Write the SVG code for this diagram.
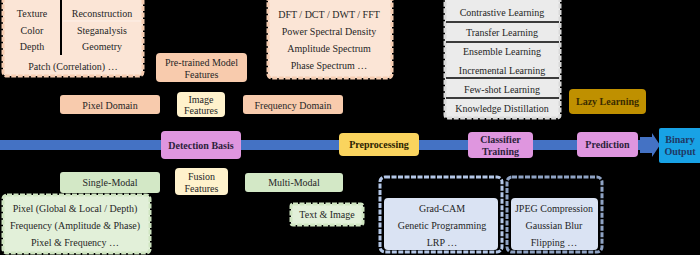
<svg xmlns="http://www.w3.org/2000/svg" width="700" height="255" viewBox="0 0 700 255">
<defs>
<style>
text{font-family:Liberation Serif,Tinos,Times New Roman,serif;font-size:10px;fill:#262626;text-anchor:middle}
.b{font-weight:bold;fill:#2b1f3a}
.pink{fill:#DF96DF}
.peach{fill:#F8CBAD}
.lpeach{fill:#FBE5D6;stroke:#F6CDB2;stroke-width:3;stroke-dasharray:5 1.5}
.yel{fill:#FFF2CC}
.grn{fill:#D3E8C6}
.lgrn{fill:#E2F0D9;stroke:#CFE5C1;stroke-width:3;stroke-dasharray:5 1.5}
.gray{fill:#EBEBEB;stroke:#D9D9D9;stroke-width:3;stroke-dasharray:5 1.5}
.lblue{fill:#DAE3F3}
.con{stroke:#000;stroke-width:1.2;fill:none;marker-end:url(#ah)}
</style>
<marker id="ah" viewBox="0 0 10 10" refX="9" refY="5" markerWidth="6" markerHeight="6" orient="auto"><path d="M0,1 L10,5 L0,9 z" fill="#000"/></marker>
</defs>
<rect width="700" height="255" fill="#000"/>

<g id="flow">
<rect x="0" y="140" width="646" height="10" fill="#4472C4"/>
<path d="M640,137 L652,137 L652,133 L660,145 L652,157 L652,153 L640,153 z" fill="#4472C4"/>
</g>

<g id="connectors">
<line class="con" x1="108" y1="76" x2="108" y2="95"/>
<line class="con" x1="293" y1="78" x2="293" y2="95"/>
<line class="con" x1="201" y1="82" x2="201" y2="92"/>
<line class="con" x1="160" y1="105" x2="177" y2="105"/>
<line class="con" x1="243" y1="105" x2="225" y2="105"/>
<line class="con" x1="201" y1="117" x2="201" y2="131"/>
<line class="con" x1="201" y1="168" x2="201" y2="158"/>
<line class="con" x1="160" y1="182" x2="175" y2="182"/>
<line class="con" x1="245" y1="182" x2="228" y2="182"/>
<line class="con" x1="105" y1="195" x2="105" y2="193"/>
<line class="con" x1="297" y1="204" x2="297" y2="192"/>
<line class="con" x1="503" y1="118" x2="503" y2="132"/>
<line class="con" x1="608" y1="114" x2="608" y2="132"/>
<line class="con" x1="452" y1="177" x2="452" y2="160"/>
<line class="con" x1="555" y1="177" x2="555" y2="160"/>
</g>

<g id="pixel-features">
<rect x="3" y="-3" width="140" height="79" rx="4" class="lpeach"/>
<line x1="61" y1="0" x2="61" y2="55" stroke="#000" stroke-width="2"/>
<line x1="63" y1="21" x2="141" y2="21" stroke="#FDF0E8" stroke-width="1"/>
<text x="32" y="16.5">Texture</text>
<text x="32" y="33.5">Color</text>
<text x="32" y="49.5">Depth</text>
<text x="102" y="16.5">Reconstruction</text>
<text x="102" y="33.5">Steganalysis</text>
<text x="102" y="49.5">Geometry</text>
<text x="73" y="69.5">Patch (Correlation) …</text>
</g>

<g id="freq-features">
<rect x="268" y="-3" width="124" height="81" rx="4" class="lpeach"/>
<text x="329" y="17.5">DFT / DCT / DWT / FFT</text>
<text x="329" y="34.5">Power Spectral Density</text>
<text x="329" y="51.5">Amplitude Spectrum</text>
<text x="329" y="68.5">Phase Spectrum …</text>
</g>

<g id="pretrained">
<rect x="156" y="53" width="91" height="29" rx="4" class="peach"/>
<text x="201.5" y="66">Pre-trained Model</text>
<text x="201.5" y="77.5">Features</text>
</g>

<g id="image-features">
<rect x="177" y="92" width="48" height="25" rx="4" class="yel"/>
<text x="201" y="103">Image</text>
<text x="201" y="114">Features</text>
</g>

<g id="pixel-domain">
<rect x="60" y="95" width="100" height="19" rx="3" class="peach"/>
<text x="110" y="108.5">Pixel Domain</text>
</g>

<g id="frequency-domain">
<rect x="243" y="95" width="100" height="19" rx="3" class="peach"/>
<text x="293" y="108.5">Frequency Domain</text>
</g>

<g id="detection-basis">
<rect x="161" y="131" width="80" height="28" rx="4" class="pink"/>
<text x="201" y="148.5" class="b">Detection Basis</text>
</g>

<g id="preprocessing">
<rect x="339" y="133" width="80" height="23" rx="4" fill="#FAD45E"/>
<text x="379" y="148" class="b" style="fill:#2b2200">Preprocessing</text>
</g>

<g id="classifier-training">
<rect x="468" y="132" width="65" height="26" rx="4" class="pink"/>
<text x="500.5" y="142.5" class="b">Classifier</text>
<text x="500.5" y="154.5" class="b">Training</text>
</g>

<g id="prediction">
<rect x="577" y="132" width="61" height="25" rx="4" class="pink"/>
<text x="607.5" y="148" class="b">Prediction</text>
</g>

<g id="binary-output">
<rect x="659" y="128" width="43" height="35" rx="2" fill="#18A2E5"/>
<text x="680" y="143" class="b" style="fill:#1F3864">Binary</text>
<text x="680" y="155" class="b" style="fill:#1F3864">Output</text>
</g>

<g id="learning-methods">
<rect x="445" y="-3" width="115" height="121" rx="3" class="gray"/>
<g stroke="#000" stroke-width="1.3">
<line x1="446" y1="22" x2="559" y2="22"/>
<line x1="446" y1="42" x2="559" y2="42"/>
<line x1="446" y1="78" x2="559" y2="78"/>
<line x1="446" y1="98" x2="559" y2="98"/>
</g>
<text x="502" y="16">Contrastive Learning</text>
<text x="502" y="35.8">Transfer Learning</text>
<text x="502" y="55.2">Ensemble Learning</text>
<text x="502" y="73.5">Incremental Learning</text>
<text x="502" y="92.8">Few-shot Learning</text>
<text x="502" y="111.8">Knowledge Distillation</text>
</g>

<g id="lazy-learning">
<rect x="569" y="89" width="77" height="25" rx="4" fill="#BF9000"/>
<text x="607.5" y="105" class="b" style="fill:#3a2c00">Lazy Learning</text>
</g>

<g id="single-modal">
<rect x="60" y="172" width="100" height="21" rx="3" class="grn"/>
<text x="110" y="186">Single-Modal</text>
</g>

<g id="fusion-features">
<rect x="175" y="168" width="53" height="27" rx="4" class="yel"/>
<text x="201.5" y="180">Fusion</text>
<text x="201.5" y="192">Features</text>
</g>

<g id="multi-modal">
<rect x="245" y="173" width="98" height="19" rx="3" class="grn"/>
<text x="294" y="186">Multi-Modal</text>
</g>

<g id="single-modal-list">
<rect x="3" y="195" width="147" height="58" rx="4" class="lgrn"/>
<text x="75" y="211.5">Pixel (Global &amp; Local / Depth)</text>
<text x="75" y="228.5">Frequency (Amplitude &amp; Phase)</text>
<text x="75" y="246">Pixel &amp; Frequency …</text>
</g>

<g id="text-image">
<rect x="291" y="204" width="72" height="21" rx="2" class="lgrn"/>
<text x="327" y="218">Text &amp; Image</text>
</g>

<g id="explainability">
<rect x="380" y="177" width="122" height="75" rx="5" fill="none" stroke="#B4C7E7" stroke-width="3" stroke-dasharray="5 1.5"/>
<rect x="384" y="198" width="114" height="52" rx="4" class="lblue"/>
<text x="442" y="211.5">Grad-CAM</text>
<text x="442" y="228.5">Genetic Programming</text>
<text x="442" y="246">LRP …</text>
</g>

<g id="augmentation">
<rect x="507" y="177" width="95" height="75" rx="5" fill="none" stroke="#8FA3C4" stroke-width="3" stroke-dasharray="5 1.5"/>
<rect x="511" y="198" width="87" height="52" rx="4" class="lblue"/>
<text x="554" y="211.5">JPEG Compression</text>
<text x="554" y="228.5">Gaussian Blur</text>
<text x="554" y="246">Flipping …</text>
</g>
</svg>
